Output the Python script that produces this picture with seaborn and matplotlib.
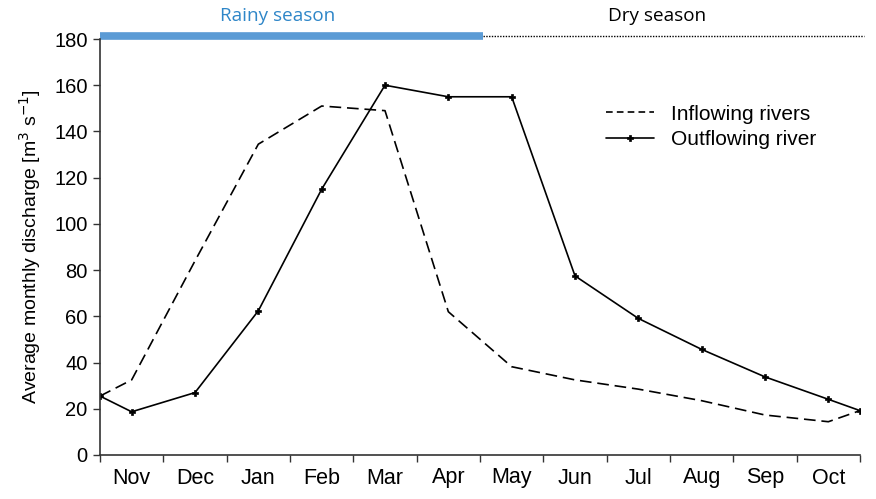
import matplotlib
matplotlib.use("Agg")
import matplotlib.pyplot as plt
import seaborn as sns
import pandas as pd

months = ["Nov", "Dec", "Jan", "Feb", "Mar", "Apr", "May", "Jun", "Jul", "Aug", "Sep", "Oct"]
# values: start of Nov, mid-month values, end of Oct
inflow = [25.5, 32.5, 84, 134.5, 151, 149, 62, 38.2, 32.5, 28.5, 23.5, 17.3, 14.4, 19.2]
outflow = [25.5, 18.7, 27, 62.4, 115, 160, 155, 155, 77.5, 59.1, 45.7, 33.8, 24.1, 19.2]
yticks = [0, 20, 40, 60, 80, 100, 120, 140, 160, 180]

n = len(months)
xpos = [0.0] + [i + 0.5 for i in range(n)] + [float(n)]

df_in = pd.DataFrame({"x": xpos, "y": inflow})
df_out = pd.DataFrame({"x": xpos, "y": outflow})

sns.set_theme(style="ticks")
plt.rcParams['font.family'] = ['Liberation Sans', 'DejaVu Sans']
plt.rcParams['text.color'] = 'black'
plt.rcParams['axes.labelcolor'] = 'black'
plt.rcParams['xtick.color'] = 'black'
plt.rcParams['ytick.color'] = 'black'

fig = plt.figure(figsize=(8.76, 4.99), dpi=100)
ax = fig.add_axes([100/876, 1-455/499, 760/876, 416/499])

sns.lineplot(data=df_in, x="x", y="y", ax=ax, color="black", lw=1.2,
             dashes=False, label="Inflowing rivers", sort=False)
ax.lines[-1].set_dashes([7, 3.5])
sns.lineplot(data=df_out, x="x", y="y", ax=ax, color="black", lw=1.2,
             marker="P", markersize=3.8, markeredgewidth=0.5, markeredgecolor="black",
             markerfacecolor="black", label="Outflowing river", sort=False)

ax.set_xlim(0, n)
ax.set_ylim(0, 180)
ax.set_yticks(yticks)
ax.set_yticklabels([str(v) for v in yticks], fontsize=14.5)
ax.set_xticks(range(n + 1))
ax.set_xticklabels([])
ax.set_xticks([i + 0.5 for i in range(n)], minor=True)
ax.set_xticklabels(months, minor=True, fontsize=15.5)
ax.tick_params(axis="x", which="minor", length=0, pad=9)
ax.tick_params(axis="x", which="major", length=5, width=1, color="#333333")
ax.tick_params(axis="y", length=5, width=1, color="#333333", pad=4)
ax.set_xlabel("")
ax.set_ylabel(r"Average monthly discharge [m$^3$ s$^{-1}$]", fontsize=14, labelpad=8)
for s in ["top", "right"]:
    ax.spines[s].set_visible(False)
for s in ["left", "bottom"]:
    ax.spines[s].set_color("#333333")
    ax.spines[s].set_linewidth(1.2)

# season bars
ax.plot([0, 6.05], [181.5, 181.5], color="#5B9BD5", lw=5.5, solid_capstyle="butt", clip_on=False)
ax.plot([6.05, 12.07], [181.5, 181.5], color="black", lw=1, ls=(0, (1, 1)), clip_on=False)
ax.text(2.8, 186, "Rainy season", color="#2E86C8", fontsize=13.6, ha="center", va="bottom",
        family=["Open Sans", "DejaVu Sans"])
ax.text(8.8, 186, "Dry season", color="black", fontsize=13.6, ha="center", va="bottom",
        family=["Open Sans", "DejaVu Sans"])

leg = ax.legend(loc="upper left", bbox_to_anchor=(0.655, 0.862), frameon=False, fontsize=15,
                handlelength=2.3, handletextpad=0.8, labelspacing=0.32, borderaxespad=0)
for h in leg.get_lines():
    h.set_linewidth(1.2)
leg.get_lines()[0].set_dashes([4, 2.5])

fig.savefig("out.png", dpi=100)
